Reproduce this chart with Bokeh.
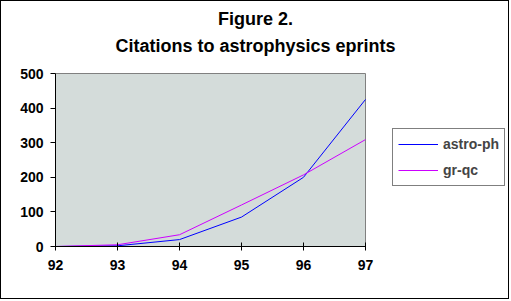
from bokeh.plotting import figure
from bokeh.models import Range1d, FixedTicker, Label, Legend, LegendItem
from bokeh.embed import file_html
from bokeh.resources import INLINE

years = [92, 93, 94, 95, 96, 97]
astro_ph = [0, 2, 20, 85, 200, 425]
gr_qc = [0, 5, 34, 120, 207, 309]
x_ticks = [92, 93, 94, 95, 96, 97]
y_ticks = [0, 100, 200, 300, 400, 500]
title_1 = "Figure 2."
title_2 = "Citations to astrophysics eprints"

FONT = "Liberation Sans"

# the plot area spans 92..97 x 0..500 (310 x 173 px); the frame is larger so that
# the legend and the titles, which lie outside the plot area, are not clipped
PLOT_W, PLOT_H = 310, 173
FRAME_W, FRAME_H = 450, 238
x_end = x_ticks[0] + (x_ticks[-1] - x_ticks[0]) * FRAME_W / PLOT_W
y_end = y_ticks[0] + (y_ticks[-1] - y_ticks[0]) * FRAME_H / PLOT_H

p = figure(width=509, height=299, output_backend="svg", toolbar_location=None,
           x_range=Range1d(x_ticks[0], x_end), y_range=Range1d(y_ticks[0], y_end),
           min_border_left=54, min_border_right=5, min_border_top=7, min_border_bottom=54)
p.styles = {"border": "1px solid black"}
p.background_fill_color = "white"
p.border_fill_color = "white"
p.outline_line_color = None
p.grid.visible = False

# grey plot area with grey top/right edges
p.quad(left=x_ticks[0], right=x_ticks[-1], bottom=y_ticks[0], top=y_ticks[-1],
       fill_color="#D4DCDA", line_color="#808080", line_width=1)

for ax in (p.xaxis[0], p.yaxis[0]):
    ax.axis_line_color = "black"
    ax.major_tick_line_color = "black"
    ax.minor_tick_line_color = None
    ax.major_label_text_font = FONT
    ax.major_label_text_font_size = "14px"
    ax.major_label_text_font_style = "bold"
    ax.major_label_text_color = "black"

p.xaxis.ticker = FixedTicker(ticks=x_ticks)
p.xaxis.bounds = (x_ticks[0], x_ticks[-1])
p.yaxis.ticker = FixedTicker(ticks=y_ticks)
p.yaxis.bounds = (y_ticks[0], y_ticks[-1])
p.xaxis.major_tick_in = 4
p.xaxis.major_tick_out = 4
p.yaxis.major_tick_in = 0
p.yaxis.major_tick_out = 5
p.yaxis.major_label_standoff = 7
p.xaxis.major_label_standoff = 9

r1 = p.line(years, astro_ph, line_color="#0000FF", line_width=1)
r2 = p.line(years, gr_qc, line_color="#CC00FF", line_width=1)

legend = Legend(items=[LegendItem(label="astro-ph", renderers=[r1]),
                       LegendItem(label="gr-qc", renderers=[r2])],
                location=(337, 60), padding=5, spacing=6,
                glyph_width=40, glyph_height=20, label_height=20, label_standoff=5,
                label_text_font=FONT, label_text_font_size="14px", label_text_font_style="bold",
                border_line_color="black", border_line_width=1,
                background_fill_color="white", background_fill_alpha=1, margin=0)
p.add_layout(legend, "center")

for txt, y in ((title_1, 228), (title_2, 201)):
    p.add_layout(Label(x=200, y=y, x_units="screen", y_units="screen", text=txt,
                       text_align="center", text_baseline="middle",
                       text_font=FONT, text_font_size="18px", text_font_style="bold",
                       text_color="black"))

open("out.html", "w").write(file_html(p, INLINE))
